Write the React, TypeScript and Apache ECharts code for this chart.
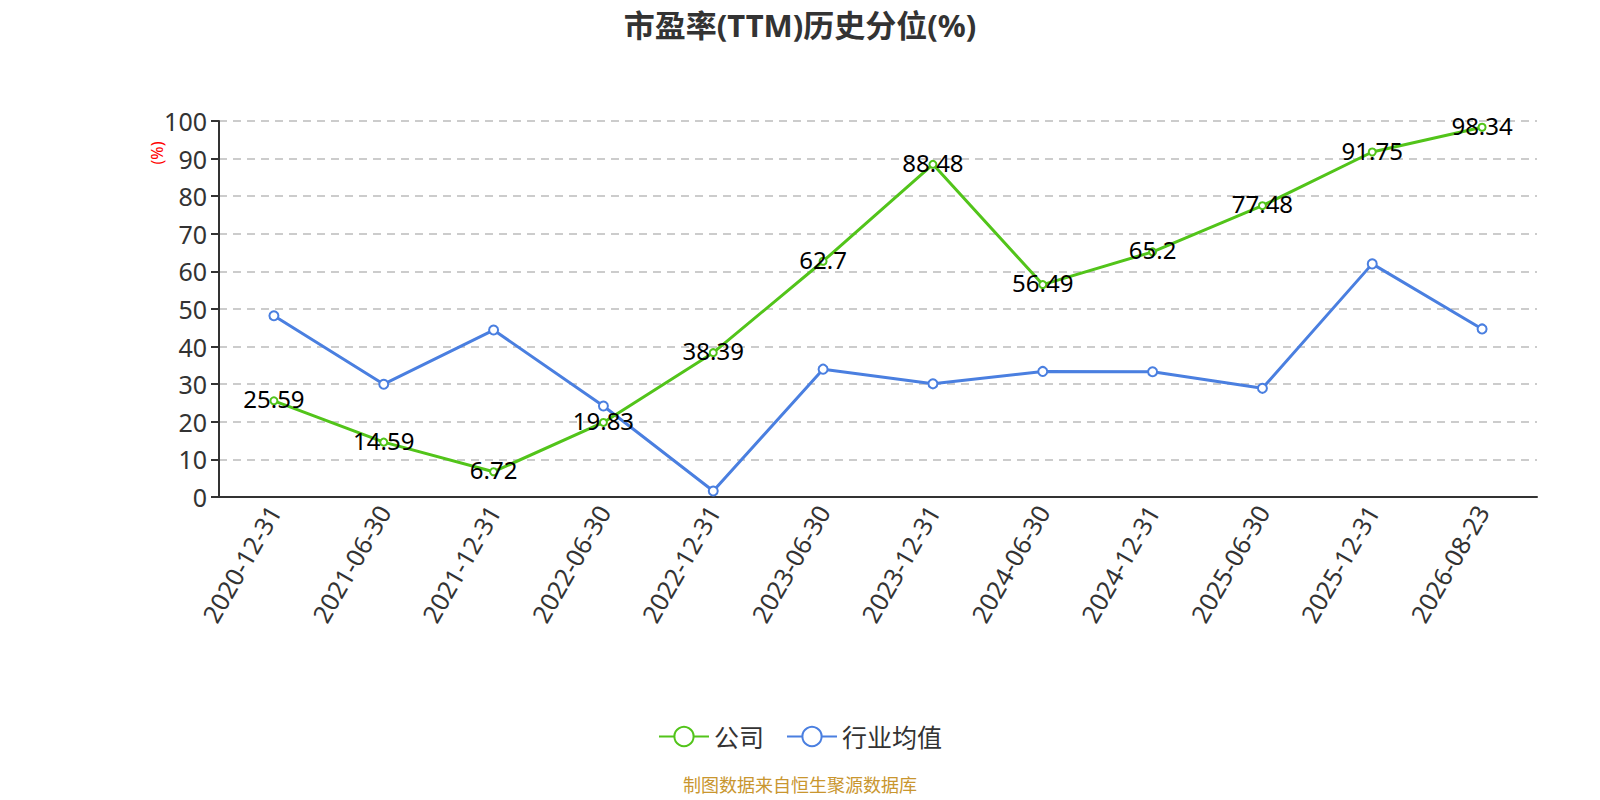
import React, { useEffect, useRef } from "react";
import * as echarts from "echarts";

const categories = [
  "2020-12-31", "2021-06-30", "2021-12-31", "2022-06-30", "2022-12-31", "2023-06-30",
  "2023-12-31", "2024-06-30", "2024-12-31", "2025-06-30", "2025-12-31", "2026-08-23",
];
const companyValues = [25.59, 14.59, 6.72, 19.83, 38.39, 62.7, 88.48, 56.49, 65.2, 77.48, 91.75, 98.34];
const industryValues = [48.2, 30.0, 44.4, 24.2, 1.6, 34.0, 30.1, 33.4, 33.3, 28.9, 62.0, 44.7];
const seriesNames = ["公司", "行业均值"];
const titleText = "市盈率(TTM)历史分位(%)";
const footerText = "制图数据来自恒生聚源数据库";

const FONT = "'Noto Sans', 'Noto Sans CJK SC', sans-serif";

export default function App() {
  const ref = useRef<HTMLDivElement>(null);
  useEffect(() => {
    if (!ref.current) return;
    const chart = echarts.init(ref.current, null, { renderer: "svg" });
    chart.setOption({
      animation: false,
      textStyle: { fontFamily: FONT },
      title: {
        text: titleText,
        left: "center",
        top: 4,
        textStyle: { fontSize: 31, fontWeight: "bold", color: "#333", fontFamily: FONT },
      },
      grid: { left: 219, right: 63, top: 121, bottom: 303, containLabel: false },
      legend: {
        bottom: 46,
        left: "center",
        itemWidth: 50,
        itemHeight: 24,
        itemGap: 22,
        textStyle: { fontSize: 25, color: "#333", fontFamily: FONT },
        data: seriesNames,
      },
      xAxis: {
        type: "category",
        data: categories,
        boundaryGap: true,
        axisLine: { lineStyle: { color: "#333", width: 2 } },
        axisTick: { alignWithLabel: false, length: 8, lineStyle: { color: "#333", width: 2 } },
        axisLabel: { rotate: 60, fontSize: 25, color: "#333", margin: 10, interval: 0 },
      },
      yAxis: {
        type: "value",
        min: 0,
        max: 100,
        interval: 10,
        axisLine: { show: true, lineStyle: { color: "#333", width: 2 } },
        axisTick: { show: true, length: 8, lineStyle: { color: "#333", width: 2 } },
        axisLabel: { fontSize: 25, color: "#333", margin: 12 },
        splitLine: { lineStyle: { type: [8, 6], color: "#ccc", width: 2 } },
      },
      graphic: [
        {
          type: "text",
          x: 157,
          y: 153,
          rotation: Math.PI / 2,
          style: {
            text: "(%)",
            fill: "#ff0000",
            fontSize: 16,
            fontFamily: FONT,
            align: "center",
            verticalAlign: "middle",
          },
        },
        {
          type: "text",
          left: "center",
          top: 776,
          style: { text: footerText, fill: "#c9962f", fontSize: 18, fontFamily: FONT },
        },
      ],
      series: [
        {
          name: seriesNames[0],
          type: "line",
          data: companyValues,
          symbol: "emptyCircle",
          symbolSize: 7,
          lineStyle: { color: "#52c41a", width: 3 },
          itemStyle: { color: "#52c41a", borderWidth: 2 },
          label: {
            show: true,
            position: "inside",
            offset: [0, -2],
            fontSize: 24,
            color: "#000",
            fontFamily: FONT,
          },
          z: 3,
        },
        {
          name: seriesNames[1],
          type: "line",
          data: industryValues,
          symbol: "emptyCircle",
          symbolSize: 9,
          lineStyle: { color: "#4a7fe0", width: 3 },
          itemStyle: { color: "#4a7fe0", borderWidth: 2 },
          z: 2,
        },
      ],
    });
    return () => chart.dispose();
  }, []);
  return (
    <div
      ref={ref}
      style={{ position: "fixed", left: 0, top: 0, width: 1600, height: 800, background: "#fff" }}
    />
  );
}
